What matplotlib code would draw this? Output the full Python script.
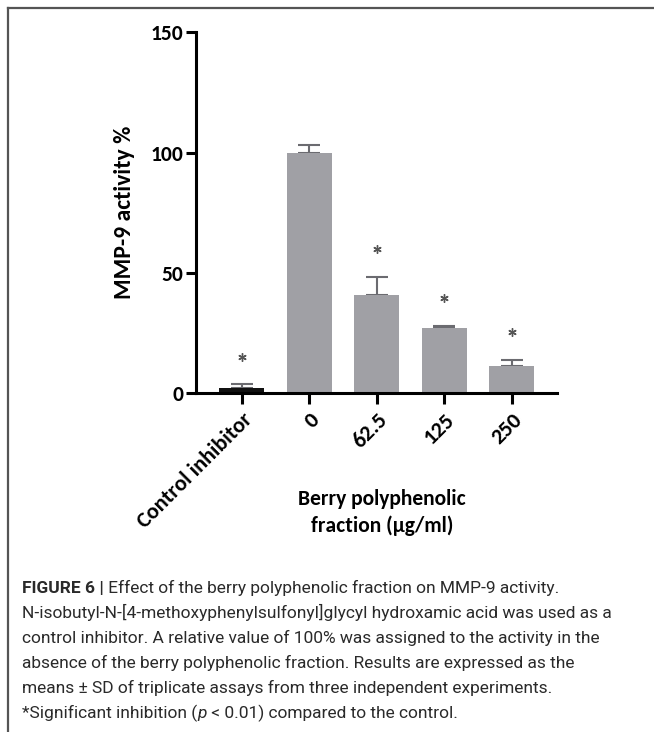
import numpy as np
import matplotlib
matplotlib.use('Agg')
import matplotlib.pyplot as plt
from matplotlib import font_manager
from matplotlib.lines import Line2D

# fontes disponíveis
installed = {f.name for f in font_manager.fontManager.ttflist}


def pick(*names):
    for n in names:
        if n in installed:
            return n
    return 'DejaVu Sans'


chart_font = pick('Carlito', 'Lato', 'Open Sans')
caption_font = pick('Liberation Sans Narrow', 'Roboto', 'Liberation Sans')

# dados
groups = ['Control inhibitor', '0', '62.5', '125', '250']
activity = [2.1, 100.0, 40.6, 27.0, 11.1]
sd = [1.4, 3.2, 7.6, 0.9, 2.5]
significant = [True, False, True, True, True]
y_ticks = [0, 50, 100, 150]

caption_lines = [
    [("FIGURE 6 |", 'bold'), (" Effect of the berry polyphenolic fraction on MMP-9 activity.", 'normal')],
    [("N-isobutyl-N-[4-methoxyphenylsulfonyl]glycyl hydroxamic acid was used as a", 'normal')],
    [("control inhibitor. A relative value of 100% was assigned to the activity in the", 'normal')],
    [("absence of the berry polyphenolic fraction. Results are expressed as the", 'normal')],
    [("means \u00b1 SD of triplicate assays from three independent experiments.", 'normal')],
    [("*Significant inhibition (", 'normal'), ("p", 'italic'), (" < 0.01) compared to the control.", 'normal')],
]

W, H = 654, 732
fig = plt.figure(figsize=(W / 100, H / 100), dpi=100)
ax = fig.add_axes([196 / W, 1 - 392.7 / H, 361 / W, 360.2 / H])

x = np.arange(len(groups))
activity = np.array(activity)
sd = np.array(sd)
bar_colors = ['#111111'] + ['#a0a0a5'] * (len(groups) - 1)

# barras + desvio padrão só para cima
ax.errorbar(x, activity, yerr=[np.zeros_like(sd), sd], fmt='none', ecolor='#6b6b70',
            elinewidth=1.5, capsize=8, capthick=1.5, zorder=1)
ax.bar(x, activity, width=0.67, color=bar_colors, zorder=2)

# asteriscos de significância
sig = np.array(significant)
ax.plot(x[sig], (activity + sd + 11.5)[sig], ls='none', marker=(6, 2, 0),
        ms=6, mew=1.0, color='#555555', zorder=3)

ax.set_xlim(-0.68, 4.67)
ax.set_ylim(0, 150)
ax.set_yticks(y_ticks)
ax.set_xticks(x)
ax.set_xticklabels(groups, rotation=45, ha='right', va='top', rotation_mode='anchor')

for s in ['top', 'right']:
    ax.spines[s].set_visible(False)
for s in ['left', 'bottom']:
    ax.spines[s].set_linewidth(2.2)
ax.spines['left'].set_bounds(0, 150)

ax.tick_params(axis='y', width=2.2, length=7, pad=2)
ax.tick_params(axis='x', width=2.2, length=8, pad=4)
for lbl in ax.get_yticklabels():
    lbl.set_fontfamily(chart_font)
    lbl.set_fontweight('bold')
    lbl.set_fontsize(15.5)
for lbl in ax.get_xticklabels():
    lbl.set_fontfamily(chart_font)
    lbl.set_fontweight('bold')
    lbl.set_fontsize(16)

ax.set_ylabel('MMP-9 activity %', fontfamily=chart_font, fontweight='bold', fontsize=17)
ax.yaxis.set_label_coords(-0.17, 0.5)
ax.set_xlabel('Berry polyphenolic\nfraction (\u00b5g/ml)', fontfamily=chart_font,
              fontweight='semibold', fontsize=15.5, linespacing=1.4)
ax.xaxis.set_label_coords(0.515, -0.268)

# moldura (linha superior e esquerda)
fig.add_artist(Line2D([7.5 / W, 1], [1 - 8 / H] * 2, transform=fig.transFigure, color='#555555', lw=1.6))
fig.add_artist(Line2D([7.5 / W] * 2, [0, 1 - 8 / H], transform=fig.transFigure, color='#555555', lw=1.6))

# legenda da figura
renderer = fig.canvas.get_renderer()
y0 = 593
for i, parts in enumerate(caption_lines):
    xp = 22
    yp = y0 + i * 25
    for txt, style in parts:
        kw = dict(fontfamily=caption_font, fontsize=12.5, color='#2a2a2a', va='baseline', ha='left')
        if style == 'bold':
            kw['fontweight'] = 'bold'
        elif style == 'italic':
            kw['fontstyle'] = 'italic'
        t = fig.text(xp / W, 1 - yp / H, txt, **kw)
        xp += t.get_window_extent(renderer).width

fig.savefig('out.png', dpi=100)
